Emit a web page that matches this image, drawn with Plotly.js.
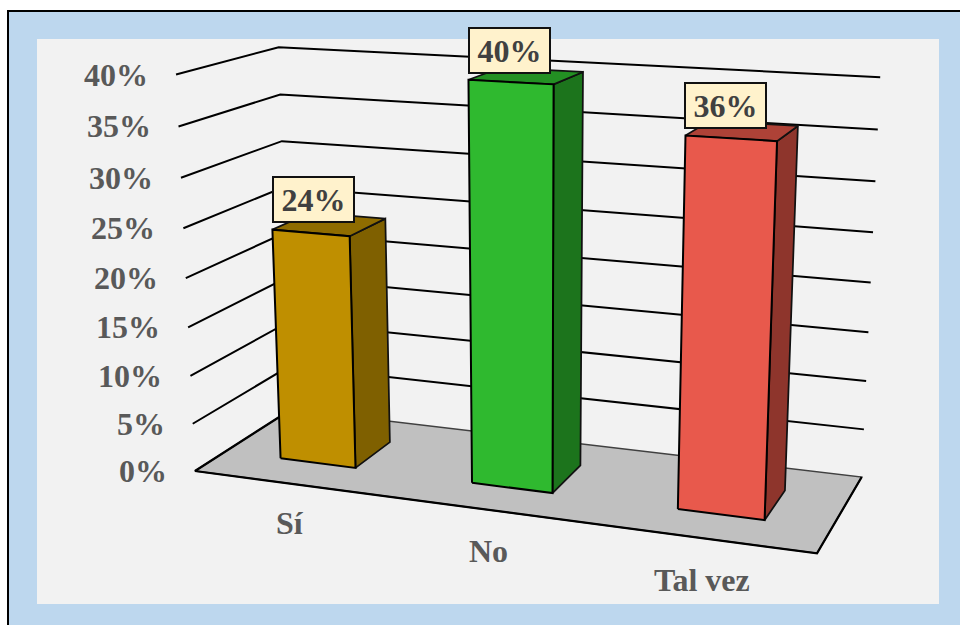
<!DOCTYPE html>
<html>
<head>
<meta charset="utf-8">
<script src="https://cdn.plot.ly/plotly-3.0.1.min.js"></script>
<style>html,body{margin:0;padding:0;background:#fff;overflow:hidden}#chart{width:960px;height:625px}</style>
</head>
<body>
<div id="chart"></div>
<script>
const categories = ['Sí', 'No', 'Tal vez'];
const values = [24, 40, 36];
const valueLabels = ['24%', '40%', '36%'];
const tickValues = [0, 5, 10, 15, 20, 25, 30, 35, 40];
const tickLabels = ['0%', '5%', '10%', '15%', '20%', '25%', '30%', '35%', '40%'];
const frontColors = ['#bf8f00', '#2fb92f', '#e8594c'];
const sideColors = ['#7f6000', '#1c741c', '#8e352c'];
const topColors = ['#8f6c00', '#239023', '#ae4237'];

const axisMax = 40;
const gapWidth = 1.5;
const depthStart = 0.3, depthEnd = 0.7;

// Perspective projection of the chart box: X across categories, Z into the page, T = value / axisMax
const P = {a: 534.6, b: 124.6, mx: -28.3, c: 195,
           d: 23.1, e: -21.25, my: -400.45, f: 471,
           g: -0.107, h: 0.0983, n: -0.053};
function project(X, Z, v) {
  const T = v / axisMax;
  const w = P.g * X + P.h * Z + P.n * T + 1;
  return [(P.a * X + P.b * Z + P.mx * T + P.c) / w,
          (P.d * X + P.e * Z + P.my * T + P.f) / w];
}
function path(pts, closed) {
  const list = closed ? pts.concat([pts[0]]) : pts;
  return {x: list.map(p => p[0]), y: list.map(p => p[1])};
}
function face(pts, fill, lineColor, lineWidth) {
  return Object.assign(path(pts, true), {
    type: 'scatter', mode: 'lines', fill: 'toself', fillcolor: fill,
    line: {color: lineColor, width: lineWidth}, hoverinfo: 'skip', showlegend: false
  });
}
function stroke(pts, color, width) {
  return Object.assign(path(pts, false), {
    type: 'scatter', mode: 'lines', line: {color: color, width: width},
    hoverinfo: 'skip', showlegend: false
  });
}

const traces = [];
// floor
traces.push(face([project(0,0,0), project(1,0,0), project(1,1,0), project(0,1,0)], '#c0c0c0', '#404040', 1.5));
traces.push(stroke([project(0,1,0), project(0,0,0), project(1,0,0), project(1,1,0)], '#000000', 2.25));
// gridlines on side and back walls
tickValues.filter(v => v > 0).forEach(v => {
  traces.push(stroke([project(0,0,v), project(0,1,v), project(1,1,v)], '#000000', 2));
});
// bars
const n = categories.length;
const barWidth = (1 / n) / (1 + gapWidth);
categories.forEach((c, i) => {
  const X0 = (i + 0.5) / n - barWidth / 2, X1 = X0 + barWidth, v = values[i];
  traces.push(face([project(X1,depthStart,0), project(X1,depthEnd,0), project(X1,depthEnd,v), project(X1,depthStart,v)], sideColors[i], '#111111', 1.75));
  traces.push(face([project(X0,depthStart,v), project(X1,depthStart,v), project(X1,depthEnd,v), project(X0,depthEnd,v)], topColors[i], '#111111', 1.75));
  traces.push(face([project(X0,depthStart,0), project(X1,depthStart,0), project(X1,depthStart,v), project(X0,depthStart,v)], frontColors[i], '#000000', 2));
});

const annotations = [];
const labelFont = (size, color) => ({family: '"Liberation Serif", serif', size: size, color: color, weight: 'bold'});
tickValues.forEach((v, i) => {
  const p = project(0, 0, v);
  annotations.push({x: p[0] - 26, y: p[1], xref: 'x', yref: 'y', text: tickLabels[i], showarrow: false,
    xanchor: 'right', yanchor: 'middle', font: labelFont(32, '#595959')});
});
categories.forEach((c, i) => {
  const p = project((i + 0.5) / n, 0, -4.2);
  annotations.push({x: p[0] - 0.5, y: p[1] - 0.5, xref: 'x', yref: 'y', text: c, showarrow: false,
    xanchor: 'center', yanchor: 'middle', font: labelFont(32, '#595959')});
});
categories.forEach((c, i) => {
  const p = project((i + 0.5) / n, 0.5, values[i]);
  annotations.push({x: p[0] - 16.5, y: p[1] - 25, xref: 'x', yref: 'y', text: valueLabels[i], showarrow: false,
    xanchor: 'center', yanchor: 'middle', width: 79, height: 43, borderpad: 0, borderwidth: 2,
    bordercolor: '#111111', bgcolor: '#fff2cc', font: labelFont(32, '#404040')});
});

const layout = {
  width: 960, height: 625, margin: {l: 0, r: 0, t: 0, b: 0},
  paper_bgcolor: '#ffffff', plot_bgcolor: 'rgba(0,0,0,0)', showlegend: false,
  xaxis: {range: [0, 960], visible: false, fixedrange: true},
  yaxis: {range: [625, 0], visible: false, fixedrange: true},
  shapes: [
    {type: 'rect', layer: 'below', xref: 'x', yref: 'y', x0: 8, y0: 11, x1: 975, y1: 640,
     fillcolor: '#bdd7ee', line: {color: '#000000', width: 2}},
    {type: 'rect', layer: 'below', xref: 'x', yref: 'y', x0: 37, y0: 39, x1: 939, y1: 604,
     fillcolor: '#f2f2f2', line: {width: 0}}
  ],
  annotations: annotations
};
Plotly.newPlot('chart', traces, layout, {displayModeBar: false, staticPlot: true});
</script>
</body>
</html>
